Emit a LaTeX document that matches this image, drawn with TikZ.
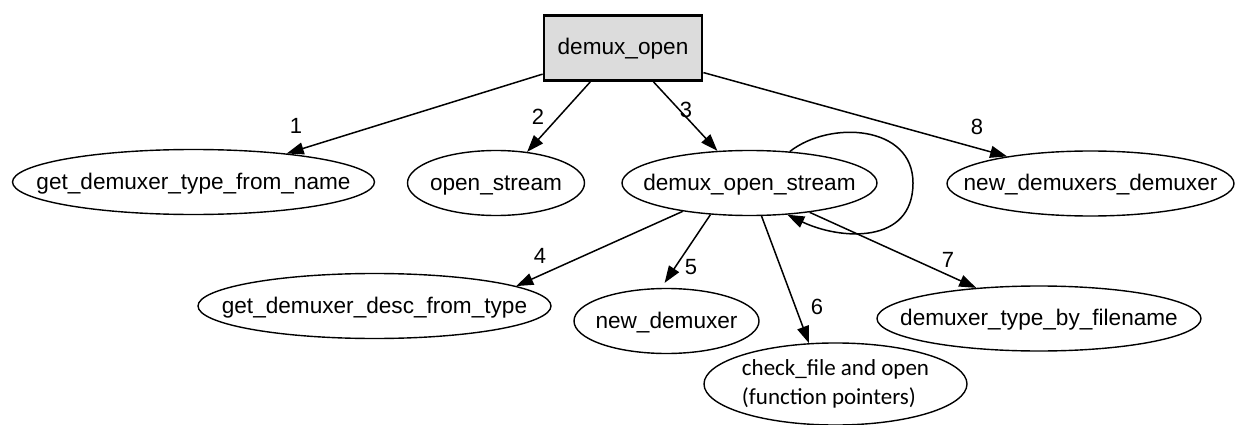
\documentclass[tikz,border=0pt]{standalone}
\usepackage{fontspec}
\setmainfont{Liberation Sans}
\newfontfamily\notefont{Carlito}
\usetikzlibrary{arrows.meta,shapes.geometric}
\definecolor{boxfill}{HTML}{DCDCDC}
% keep the text from widening the ellipse: its box gets zero width
\newcommand{\fname}[1]{\makebox[0pt]{#1}}

\begin{document}
\begin{tikzpicture}[x=1pt,y=-1pt,
  fn/.style={ellipse, draw, line width=1.4pt, inner sep=0pt,
    font=\fontsize{22.6}{27}\selectfont},
  oneline/.style={fn, text height=17pt, text depth=3pt, minimum height=65pt},
  rootbox/.style={rectangle, draw, fill=boxfill, line width=2.8pt,
    minimum width=158pt, minimum height=65pt, inner sep=0pt,
    text height=17pt, text depth=3pt, font=\fontsize{22.6}{27}\selectfont},
  call/.style={line width=1.5pt, -{Triangle[length=17pt,width=12pt]}},
  lbl/.style={inner sep=0pt, font=\fontsize{22}{26}\selectfont}]

\useasboundingbox (0,0) rectangle (1239,425);

% functions
\node[rootbox] (do) at (623,48) {\fname{demux\_open}};
\node[oneline, minimum width=362pt] (gt) at (193.5,182) {\fname{get\_demuxer\_type\_from\_name}};
\node[oneline, minimum width=177pt] (os) at (496,183) {\fname{open\_stream}};
\node[oneline, minimum width=255pt] (dos) at (749.5,183) {\fname{demux\_open\_stream}};
\node[oneline, minimum width=287pt] (nd) at (1090.5,183.5) {\fname{new\_demuxers\_demuxer}};
\node[oneline, minimum width=353pt] (gd) at (374.5,306) {\fname{get\_demuxer\_desc\_from\_type}};
\node[oneline, minimum width=185pt] (nx) at (666.5,321) {\fname{new\_demuxer}};
\node[oneline, minimum width=324pt] (tf) at (1039,318.5) {\fname{demuxer\_type\_by\_filename}};
\node[fn, minimum width=263pt, minimum height=77pt] (cf) at (835.5,384)
  {\fname{\raisebox{-6pt}{\notefont\fontsize{23}{29}\selectfont
   \begin{tabular}{@{}l@{}}check\_file and open\\(function pointers)\end{tabular}}}};

% calls from demux_open
\draw[call] (do.198.6) -- (gt.17.6);
\draw[call] (do.226.7) -- (os.45);
\draw[call] (do.312.4) -- (dos.135.4);
\draw[call] (do.343.5) -- (nd.162.7);

% calls from demux_open_stream
\draw[call] (dos.203.2) -- (gd.8.9);
\draw[call, shorten >=6pt] (dos.219.9) -- (nx.99.5);
\draw[call] (dos.290) -- (cf.123.9);
\draw[call] (dos.334.7) -- (tf.154.1);

% recursive call
\coordinate (loopR) at (913,183);
\draw[call] (dos.38.8) .. controls (830,120) and (913,125) .. (loopR)
  .. controls (913,245) and (840,240) .. (dos.320.8);

% call order
\node[lbl] (l1) at (296,126) {1};
\node[lbl] (l2) at (538,117) {2};
\node[lbl] (l3) at (686,110) {3};
\node[lbl] (l4) at (540,256) {4};
\node[lbl] (l5) at (691,267) {5};
\node[lbl] (l6) at (817,307) {6};
\node[lbl] (l7) at (948,260) {7};
\node[lbl] (l8) at (977,127) {8};
\end{tikzpicture}
\end{document}
